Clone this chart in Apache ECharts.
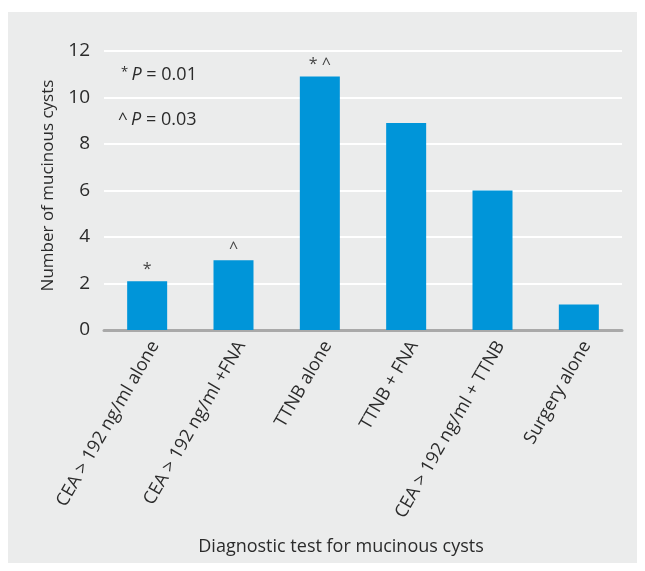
<!DOCTYPE html>
<html>
<head>
<meta charset="utf-8">
<script src="https://cdn.jsdelivr.net/npm/echarts@6/dist/echarts.min.js"></script>
<style>
html,body{margin:0;padding:0;background:#ffffff;}
#bg{position:absolute;left:8px;top:12px;width:629px;height:551px;background:#ebecec;}
#chart{position:absolute;left:0;top:0;width:645px;height:571px;}
</style>
</head>
<body>
<div id="bg"></div>
<div id="chart"></div>
<script>
const categories = ['CEA > 192 ng/ml alone', 'CEA > 192 ng/ml +FNA', 'TTNB alone', 'TTNB + FNA', 'CEA > 192 ng/ml + TTNB', 'Surgery alone'];
const values = [2.1, 3.0, 10.9, 8.9, 6.0, 1.1];
const marks = ['*', '^', '* ^', '', '', ''];
const yTicks = {min: 0, max: 12, interval: 2};
const notes = [['*', 'P', ' = 0.01'], ['^', 'P', ' = 0.03']];

const font = '"Open Sans", "Noto Sans", sans-serif';
const txt = '#2b2b2b';
const noteStyle = (n) => ({
  text: '{s|' + n[0] + '} {i|' + n[1] + '}{r|' + n[2] + '}',
  rich: {
    s: {fontSize: n[0] === '*' ? 13 : 17, fill: txt, fontFamily: font, verticalAlign: 'top'},
    i: {fontSize: 18, fontStyle: 'italic', fill: txt, fontFamily: font},
    r: {fontSize: 18, fill: txt, fontFamily: font}
  }
});
const chart = echarts.init(document.getElementById('chart'), null, {renderer: 'canvas'});
chart.setOption({
  backgroundColor: 'transparent',
  animation: false,
  textStyle: {fontFamily: font},
  grid: {left: 104, right: 23, top: 51, bottom: 241, containLabel: false},
  xAxis: {
    type: 'category',
    data: categories,
    name: 'Diagnostic test for mucinous cysts',
    nameLocation: 'middle',
    nameGap: 208,
    nameTextStyle: {fontSize: 18, color: txt, fontFamily: font, padding: [0, 44, 0, 0]},
    axisLine: {show: true, lineStyle: {color: '#a9a9a9', width: 3}},
    axisTick: {show: false},
    axisLabel: {rotate: 60, fontSize: 18, color: txt, margin: 8, fontFamily: font, interval: 0, verticalAlign: 'top'}
  },
  yAxis: {
    type: 'value',
    min: yTicks.min, max: yTicks.max, interval: yTicks.interval,
    name: 'Number of mucinous cysts',
    nameLocation: 'middle',
    nameGap: 47,
    nameRotate: 90,
    nameTextStyle: {fontSize: 17, color: txt, fontFamily: font, padding: [0, 0, 0, 10]},
    axisLine: {show: false},
    axisTick: {show: false},
    axisLabel: {fontSize: 19, color: txt, margin: 14, fontFamily: font},
    splitLine: {lineStyle: {color: '#ffffff', width: 2}}
  },
  graphic: [
    {type: 'text', left: 121, top: 66, style: noteStyle(notes[0])},
    {type: 'text', left: 118, top: 111, style: noteStyle(notes[1])}
  ],
  series: [{
    type: 'bar',
    data: values,
    barWidth: 40,
    itemStyle: {color: '#0095d9'},
    label: {
      show: true,
      position: 'top',
      distance: 4,
      fontSize: 16,
      color: '#444',
      fontFamily: font,
      formatter: p => marks[p.dataIndex]
    }
  }]
});
</script>
</body>
</html>
